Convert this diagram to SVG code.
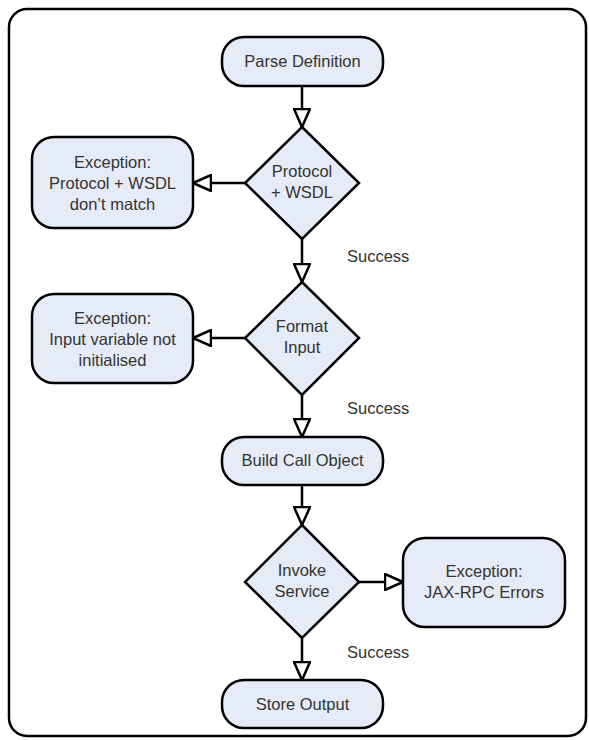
<svg xmlns="http://www.w3.org/2000/svg" width="589" height="740" viewBox="0 0 589 740">
<style>
.box{fill:#e6ecf7;stroke:#000;stroke-width:2.5}
.t{font-family:"Liberation Sans",Arial,sans-serif;font-size:16.5px;fill:#333;text-anchor:middle}
.lbl{font-family:"Liberation Sans",Arial,sans-serif;font-size:16.5px;fill:#333}
.c{stroke:#000;stroke-width:2.5;fill:none;marker-end:url(#arr)}
</style>
<defs>
<marker id="arr" viewBox="0 0 20 18" markerWidth="20" markerHeight="18" refX="19" refY="9" orient="auto" markerUnits="userSpaceOnUse">
<path d="M1,1 L19,9 L1,17 z" fill="#fff" stroke="#000" stroke-width="2.5"/>
</marker>
</defs>
<rect x="9" y="9" width="577" height="727" rx="18" fill="#fff" stroke="#000" stroke-width="2.5"/>
<g id="connectors">
<line class="c" x1="302" y1="86" x2="302" y2="127"/>
<line class="c" x1="245" y1="183" x2="193" y2="183"/>
<line class="c" x1="302" y1="239" x2="302" y2="282"/>
<line class="c" x1="245" y1="338" x2="193" y2="338"/>
<line class="c" x1="302" y1="395" x2="302" y2="437"/>
<line class="c" x1="302" y1="485" x2="302" y2="525"/>
<line class="c" x1="359" y1="582" x2="403" y2="582"/>
<line class="c" x1="302" y1="638" x2="302" y2="680"/>
<text class="lbl" x="347" y="262">Success</text>
<text class="lbl" x="347" y="414">Success</text>
<text class="lbl" x="347" y="658">Success</text>
</g>
<g id="parse">
<rect class="box" x="222" y="37" width="161" height="49" rx="22"/>
<text class="t" x="302.5" y="67">Parse Definition</text>
</g>
<g id="d1">
<polygon class="box" points="302,127 359,183 302,239 245,183"/>
<text class="t" x="302" y="177">Protocol</text>
<text class="t" x="302" y="198">+ WSDL</text>
</g>
<g id="e1">
<rect class="box" x="32" y="137" width="161" height="91" rx="22"/>
<text class="t" x="112.5" y="168">Exception:</text>
<text class="t" x="112.5" y="189">Protocol + WSDL</text>
<text class="t" x="112.5" y="210">don’t match</text>
</g>
<g id="d2">
<polygon class="box" points="302,282 359,338 302,395 245,338"/>
<text class="t" x="302" y="332">Format</text>
<text class="t" x="302" y="353">Input</text>
</g>
<g id="e2">
<rect class="box" x="32" y="294" width="161" height="89" rx="22"/>
<text class="t" x="112.5" y="324">Exception:</text>
<text class="t" x="112.5" y="345">Input variable not</text>
<text class="t" x="112.5" y="366">initialised</text>
</g>
<g id="build">
<rect class="box" x="222" y="437" width="161" height="48" rx="22"/>
<text class="t" x="302.5" y="466">Build Call Object</text>
</g>
<g id="d3">
<polygon class="box" points="302,525 359,582 302,638 245,582"/>
<text class="t" x="302" y="576">Invoke</text>
<text class="t" x="302" y="597">Service</text>
</g>
<g id="e3">
<rect class="box" x="403" y="538" width="162" height="89" rx="22"/>
<text class="t" x="484" y="577">Exception:</text>
<text class="t" x="484" y="598">JAX-RPC Errors</text>
</g>
<g id="store">
<rect class="box" x="222" y="680" width="161" height="48" rx="22"/>
<text class="t" x="302.5" y="710">Store Output</text>
</g>
</svg>
